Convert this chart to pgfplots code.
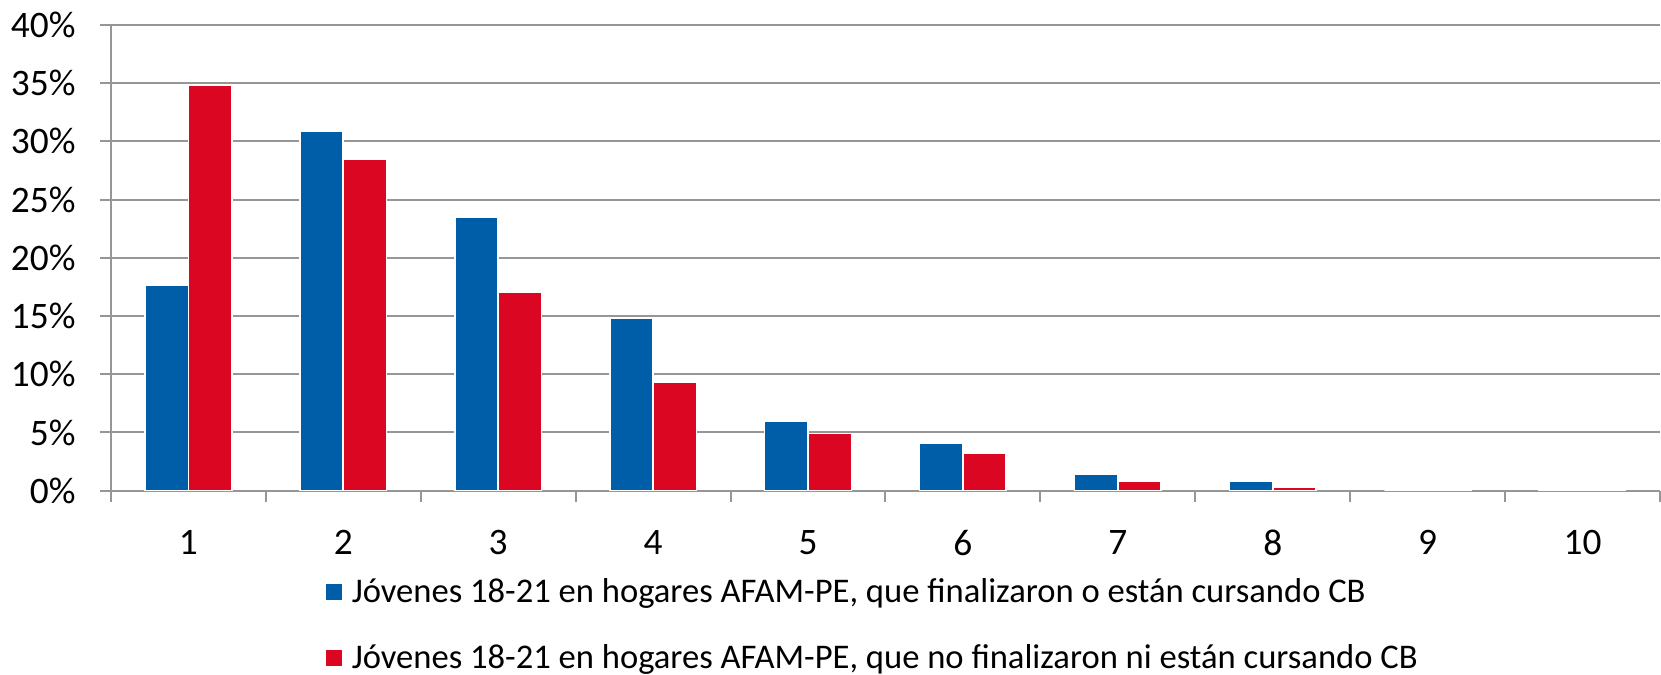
\documentclass[border=0pt]{standalone}
\usepackage{pgfplots}
\pgfplotsset{compat=1.18}
\usepackage{fontspec}
\setmainfont{Carlito}
\definecolor{cblue}{RGB}{0,94,168}
\definecolor{cred}{RGB}{218,6,34}
\definecolor{cgrid}{RGB}{150,150,150}
\begin{document}
\begin{tikzpicture}
\begin{axis}[
  scale only axis,
  width=775pt, height=233pt,
  xmin=0.5, xmax=10.5, ymin=0, ymax=40,
  axis x line*=bottom, axis y line*=left,
  axis line style={cgrid, line width=1pt},
  ymajorgrids, grid style={cgrid, line width=1pt},
  tick align=outside,
  major tick length=5.5pt, minor tick length=5.5pt,
  tick style={cgrid, line width=1pt},
  xtick={1,...,10},
  xticklabels={1,2,3,4,5,6,7,8,9,10},
  major x tick style={draw=none},
  minor xtick={0.5,1.5,...,10.5},
  ytick={0,5,...,40},
  yticklabels={0\%,5\%,10\%,15\%,20\%,25\%,30\%,35\%,40\%},
  ticklabel style={font=\fontsize{18.7}{22}\selectfont, text=black},
  yticklabel style={inner sep=0pt, xshift=-12pt},
  xticklabel style={inner sep=0pt, yshift=-14pt},
  ybar=0pt, bar width=0.28,
  clip=false,
  legend style={draw=none, fill=none, inner sep=0pt,
    at={(rel axis cs:0.1374,-0.1867)}, anchor=north west,
    font=\fontsize{17.3}{20}\selectfont,
    nodes={inner sep=0pt, text height=12pt, text depth=0pt, anchor=base west},
    /tikz/column sep=4.2pt, /tikz/row sep=21.2pt},
  legend cell align=left,
  legend image code/.code={\fill[#1] (0pt,0.6pt) rectangle (8.85pt,9.45pt);},
]
\addplot[fill=cblue, draw=white, line width=0.8pt] coordinates {
 (1,17.65) (2,30.85) (3,23.5) (4,14.8) (5,5.95) (6,4.05) (7,1.45) (8,0.85) (9,0.0) (10,0.05)};
\addlegendentry{Jóvenes 18-21 en hogares AFAM-PE, que finalizaron o están cursando CB}
\addplot[fill=cred, draw=white, line width=0.8pt] coordinates {
 (1,34.85) (2,28.45) (3,17.05) (4,9.35) (5,4.9) (6,3.25) (7,0.85) (8,0.3) (9,0.15) (10,0.0)};
\addlegendentry{Jóvenes 18-21 en hogares AFAM-PE, que no finalizaron ni están cursando CB}
\path[draw=none] (rel axis cs:-0.0716,-0.3948) rectangle (rel axis cs:1,1.0536);
\end{axis}
\end{tikzpicture}
\end{document}
